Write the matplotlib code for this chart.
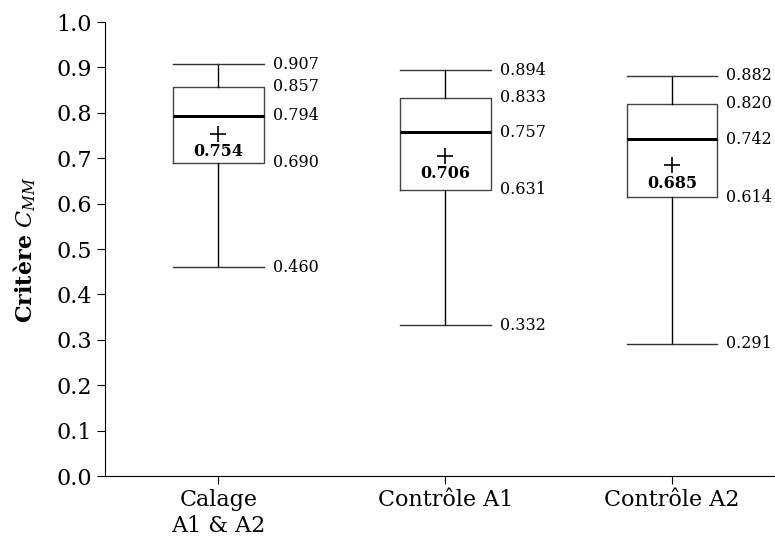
import matplotlib
matplotlib.use('Agg')
import matplotlib.pyplot as plt

plt.rcParams['font.family'] = 'DejaVu Serif'
plt.rcParams['mathtext.fontset'] = 'dejavuserif'

# Box plot statistics
labels = ['Calage\nA1 & A2', 'Contrôle A1', 'Contrôle A2']
whislo = [0.460, 0.332, 0.291]
q1 = [0.690, 0.631, 0.614]
med = [0.794, 0.757, 0.742]
q3 = [0.857, 0.833, 0.820]
whishi = [0.907, 0.894, 0.882]
means = [0.754, 0.706, 0.685]

positions = [1, 2, 3]
stats = []
for i in range(len(labels)):
    stats.append({'whislo': whislo[i], 'q1': q1[i], 'med': med[i], 'q3': q3[i],
                  'whishi': whishi[i], 'mean': means[i], 'fliers': []})

fig = plt.figure(figsize=(7.75, 5.4), dpi=100)
ax = fig.add_axes([0.1355, 0.1185, 0.878, 0.8407])

ax.bxp(stats, positions=positions, widths=0.4, capwidths=0.4, showmeans=True,
       showfliers=False,
       boxprops=dict(color='#444444', linewidth=1.0),
       whiskerprops=dict(color='black', linewidth=1.0),
       capprops=dict(color='#333333', linewidth=1.0),
       medianprops=dict(color='black', linewidth=2.2),
       meanprops=dict(marker='+', markeredgecolor='black', markersize=11,
                      markeredgewidth=1.2))

# Value labels on the right of each box
for i, p in enumerate(positions):
    for v in [whislo[i], q1[i], med[i], q3[i], whishi[i]]:
        ax.annotate(f'{v:.3f}', xy=(p + 0.2, v), xytext=(6.5, 0),
                    textcoords='offset points', ha='left', va='center',
                    fontsize=11.5)
    ax.annotate(f'{means[i]:.3f}', xy=(p, means[i]), xytext=(0, -13),
                textcoords='offset points', ha='center', va='center',
                fontsize=11.5, fontweight='bold')

ax.set_xlim(0.5, 3.5)
ax.set_ylim(0, 1.0)
ax.set_yticks([i / 10 for i in range(11)])
ax.set_yticklabels([f'{i / 10:.1f}' for i in range(11)])
ax.set_xticks(positions)
ax.set_xticklabels(labels)
ax.tick_params(labelsize=16, length=6)
ax.spines['top'].set_visible(False)
ax.spines['right'].set_visible(False)

ax.set_ylabel(r'Critère $C_{MM}$', fontsize=16, fontweight='bold')
ax.yaxis.set_label_coords(-0.098, 0.5)

fig.savefig('out.png', dpi=100)
